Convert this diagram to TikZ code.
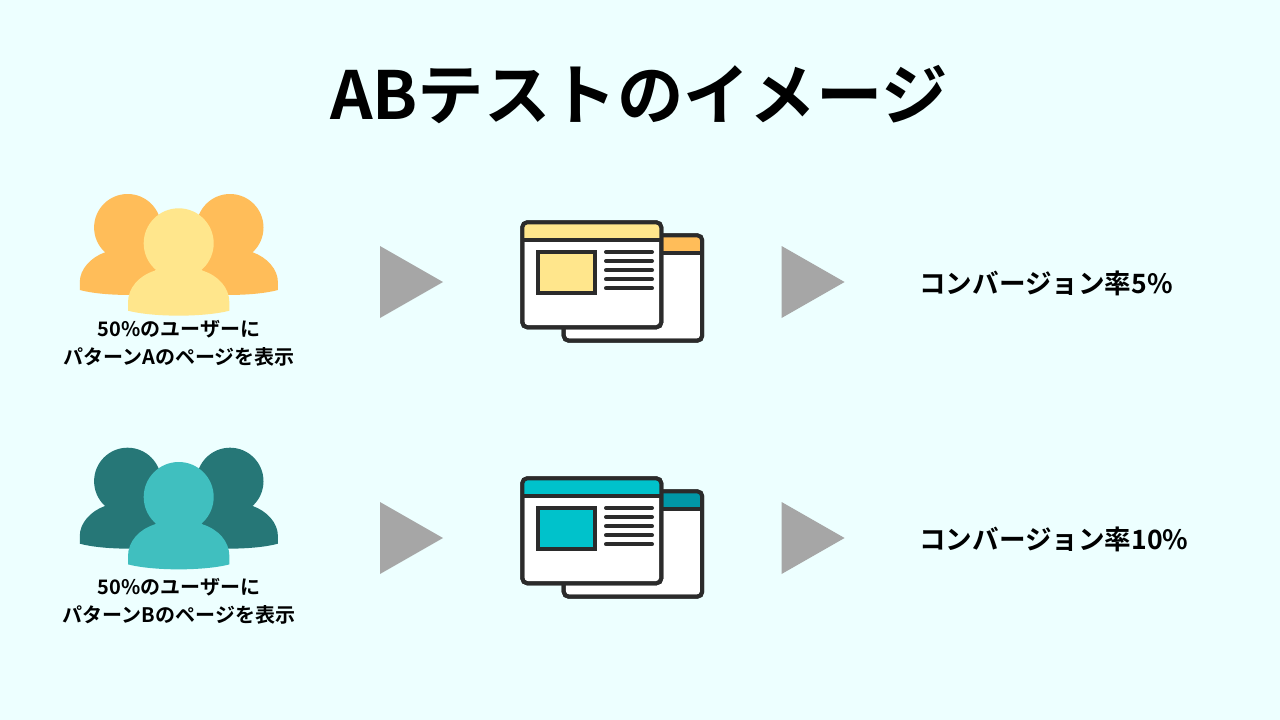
\documentclass[tikz,border=0pt]{standalone}
\usepackage{fontspec}
\newfontfamily\cjk{Noto Sans CJK JP}[BoldFont={Noto Sans CJK JP Bold}]
\definecolor{bgc}{HTML}{EDFFFF}
\definecolor{orangec}{HTML}{FFBD59}
\definecolor{yellowc}{HTML}{FFE68C}
\definecolor{darkteal}{HTML}{267777}
\definecolor{lightteal}{HTML}{40BFBF}
\definecolor{brightteal}{HTML}{00C2CB}
\definecolor{midteal}{HTML}{0097A7}
\definecolor{inkc}{HTML}{2B2B2B}
\definecolor{arrowc}{HTML}{A6A6A6}
\tikzset{
  x=1pt,y=-1pt,
  titletext/.style={font=\cjk\bfseries\fontsize{66.4}{66}\selectfont,inner sep=0pt,anchor=center,text=black},
  usertext/.style={font=\cjk\bfseries\fontsize{20}{27}\selectfont,inner sep=0pt,anchor=center,align=center,text=black},
  ratetext/.style={font=\cjk\bfseries\fontsize{26.6}{30}\selectfont,inner sep=0pt,anchor=west,text=black},
  arrowtri/.style={fill=arrowc,draw=none},
  frameline/.style={draw=inkc,line width=4pt},
  textline/.style={draw=inkc,line width=4pt,line cap=round},
}
% #1 x, #2 body top y, #3 bottom mid y, #4 half-width, #5 colour
\newcommand{\personbody}[5]{%
  \fill[#5] (#1-#4,#3-5) -- (#1-#4,#3-13)
    .. controls (#1-#4,#2+17) and (#1-#4+11,#2+5) .. (#1-24,#2)
    -- (#1-15,#2-8) -- (#1+15,#2-8) -- (#1+24,#2)
    .. controls (#1+#4-11,#2+5) and (#1+#4,#2+17) .. (#1+#4,#3-13)
    -- (#1+#4,#3-5)
    .. controls (#1+25,#3+1.6) and (#1-25,#3+1.6) .. (#1-#4,#3-5) -- cycle;
}
\newcommand{\crowd}[3]{% #1 y shift, #2 back colour, #3 front colour
  \begin{scope}[yshift=-#1pt]
    \fill[#2] (127.6,227.5) circle[radius=33.5];
    \personbody{129}{252.3}{295}{49.2}{#2}
    \fill[#2] (230,227.5) circle[radius=33.5];
    \personbody{228.7}{252.3}{295}{49.2}{#2}
    \fill[#3] (178.7,243.3) circle[radius=35];
    \personbody{178.7}{270.7}{315.7}{50.7}{#3}
  \end{scope}
}
\newcommand{\browser}[3]{% #1 y shift, #2 back colour, #3 front colour
  \begin{scope}[yshift=-#1pt]
    \path[fill=white,frameline,rounded corners=5pt] (563.7,235.3) rectangle (702.2,340.7);
    \path[fill=#2,rounded corners=5pt] (563.7,235.3) -- (702.2,235.3) -- (702.2,253.3) -- (563.7,253.3) -- cycle;
    \path[frameline,rounded corners=5pt] (563.7,340.7) rectangle (702.2,235.3);
    \draw[frameline] (563.7,253.3) -- (702.2,253.3);
    \path[fill=white,frameline,rounded corners=5pt] (522.3,222.3) rectangle (661.3,327.3);
    \path[fill=#3,rounded corners=5pt] (522.3,240) -- (522.3,222.3) -- (661.3,222.3) -- (661.3,240) -- cycle;
    \path[frameline,rounded corners=5pt] (522.3,222.3) rectangle (661.3,327.3);
    \draw[frameline] (522.3,240) -- (661.3,240);
    \path[fill=#3,frameline] (538,252) rectangle (595,293);
    \foreach \ly in {252,261,270.3,279.3,288.3}
      \draw[textline] (606,\ly) -- (652,\ly);
  \end{scope}
}
\newcommand{\arrowtriangle}[2]{%
  \fill[arrowtri] (#1,#2-36) -- (#1+63,#2) -- (#1,#2+36) -- cycle;
}
\begin{document}
\begin{tikzpicture}
  \useasboundingbox (0,0) rectangle (1280,720);
  \fill[bgc] (0,0) rectangle (1280,720);
  \node[titletext] (title) at (639,95) {ABテストのイメージ};

  \crowd{0}{orangec}{yellowc}
  \node[usertext] (usersA1) at (179,329) {50\%のユーザーに};
  \node[usertext] (usersA2) at (179,357) {パターンAのページを表示};
  \arrowtriangle{380}{282}
  \browser{0}{orangec}{yellowc}
  \arrowtriangle{781.6}{282}
  \node[ratetext] (rateA) at (919,283.5) {コンバージョン率5\%};

  \crowd{253.7}{darkteal}{lightteal}
  \node[usertext] (usersB1) at (179,587) {50\%のユーザーに};
  \node[usertext] (usersB2) at (179,615) {パターンBのページを表示};
  \arrowtriangle{380}{538}
  \browser{256}{midteal}{brightteal}
  \arrowtriangle{781.6}{538}
  \node[ratetext] (rateB) at (919,539.5) {コンバージョン率10\%};
\end{tikzpicture}
\end{document}
